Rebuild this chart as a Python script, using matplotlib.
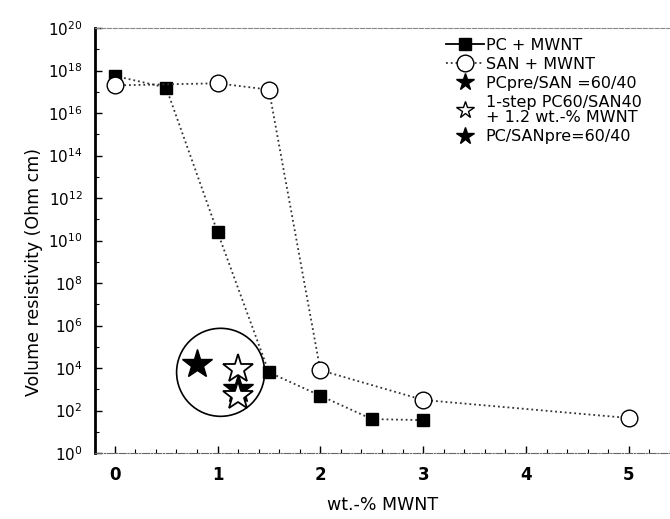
import matplotlib
matplotlib.use("Agg")
import matplotlib.pyplot as plt
from matplotlib.patches import Ellipse
from matplotlib.lines import Line2D
import numpy as np

plt.rcParams['font.family'] = ['DejaVu Sans']
plt.rcParams['mathtext.default'] = 'regular'

# Data (volume resistivity, Ohm cm)
pc_x = [0, 0.5, 1, 1.5, 2, 2.5, 3]
pc_y = [10**17.75, 10**17.2, 10**10.4, 10**3.8, 10**2.7, 10**1.6, 10**1.55]
san_x = [0, 1, 1.5, 2, 3, 5]
san_y = [10**17.3, 10**17.4, 10**17.1, 10**3.9, 10**2.5, 10**1.65]
pcpre_x = [1.2]
pcpre_y = [10**3.0]
onestep_x = [1.2, 1.2]
onestep_y = [10**3.95, 10**2.7]
sanpre_x = [0.8]
sanpre_y = [10**4.2]
ytick_exps = list(range(0, 21, 2))
ytick_labels = [r'$10^{%d}$' % k for k in ytick_exps]
xtick_vals = [0, 1, 2, 3, 4, 5]

fig = plt.figure(figsize=(6.7, 5.19), dpi=100)
ax = fig.add_axes([0.142, 0.127, 0.858, 0.819])
ax.set_yscale('log')
ax.set_xlim(-0.19, 5.4)
ax.set_ylim(1, 1e20)

ax.plot(pc_x, pc_y, linestyle=':', color='#333333', lw=1.3, marker='s',
        markersize=9, markerfacecolor='black', markeredgecolor='black', zorder=3)
ax.plot(san_x, san_y, linestyle=':', color='#333333', lw=1.3, marker='o',
        markersize=12, markerfacecolor='white', markeredgecolor='black', zorder=3)
ax.plot(sanpre_x, sanpre_y, linestyle='none', marker='*', markersize=22,
        markerfacecolor='black', markeredgecolor='black', zorder=4)
ax.plot(pcpre_x, pcpre_y, linestyle='none', marker='*', markersize=22,
        markerfacecolor='black', markeredgecolor='black', zorder=4)
ax.plot(onestep_x, onestep_y, linestyle='none', marker='*', markersize=22,
        markerfacecolor='white', markeredgecolor='black', markeredgewidth=1.3, zorder=5)

# highlighting circle
center_disp = ax.transData.transform((1.03, 10**3.8))
cx, cy = fig.transFigure.inverted().transform(center_disp)
ell = Ellipse((cx, cy), width=88 / 670, height=88 / 519, transform=fig.transFigure,
              fill=False, edgecolor='black', lw=1.2, zorder=2)
fig.patches.append(ell)

ax.set_yticks([10.0**k for k in ytick_exps])
ax.set_yticklabels(ytick_labels, fontsize=11)
ax.set_yticks([10.0**k for k in range(1, 20, 2)], minor=True)
ax.yaxis.set_minor_formatter(matplotlib.ticker.NullFormatter())
ax.set_xticks(xtick_vals)
ax.set_xticklabels([str(v) for v in xtick_vals], fontsize=12, fontweight='bold')
ax.set_xticks(np.arange(0, 5.5, 0.2), minor=True)
ax.tick_params(axis='both', which='major', direction='in', length=5, width=1)
ax.tick_params(axis='both', which='minor', direction='in', length=3, width=0.8)
ax.tick_params(axis='x', pad=9)
ax.tick_params(axis='y', pad=9)

ax.spines['left'].set_linewidth(2)
ax.spines['top'].set_linestyle('--')
ax.spines['top'].set_color('#888888')
ax.spines['top'].set_linewidth(0.8)
ax.spines['bottom'].set_linestyle('-.')
ax.spines['bottom'].set_color('#666666')
ax.spines['bottom'].set_linewidth(0.8)
ax.spines['right'].set_visible(False)

ax.set_ylabel('Volume resistivity (Ohm cm)', fontsize=12.5)
ax.yaxis.set_label_coords(-0.09, 0.426)
ax.set_xlabel('wt.-% MWNT', fontsize=12.5, labelpad=9)

handles = [
    Line2D([], [], color='black', lw=1.3, marker='s', markersize=9, markerfacecolor='black'),
    Line2D([], [], color='#333333', lw=1.3, linestyle=':', marker='o', markersize=12,
           markerfacecolor='white', markeredgecolor='black'),
    Line2D([], [], linestyle='none', marker='*', markersize=13, color='black'),
    Line2D([], [], linestyle='none', marker='*', markersize=13, markerfacecolor='white',
           markeredgecolor='black'),
    Line2D([], [], linestyle='none', marker='*', markersize=13, color='black'),
]
labels = ['PC + MWNT', 'SAN + MWNT', 'PCpre/SAN =60/40',
          '1-step PC60/SAN40\n+ 1.2 wt.-% MWNT', 'PC/SANpre=60/40']
leg = ax.legend(handles, labels, loc='upper left', bbox_to_anchor=(0.61, 0.977),
                frameon=False, fontsize=11.5, handlelength=2.4, handletextpad=0.1,
                labelspacing=0.25, borderpad=0, borderaxespad=0)
for t in leg.get_texts():
    t.set_linespacing(1.05)

fig.savefig('out.png', dpi=100)
